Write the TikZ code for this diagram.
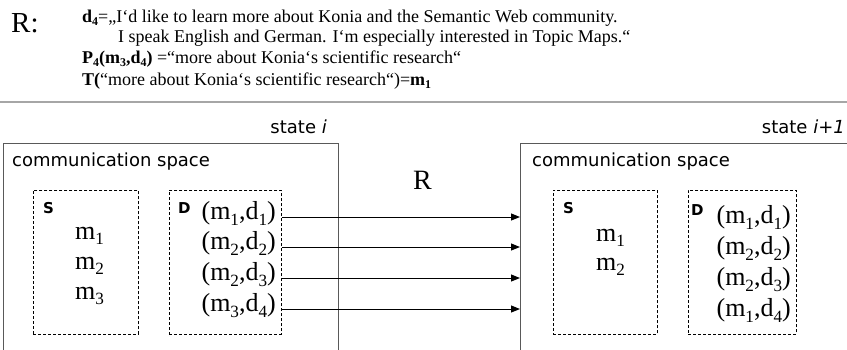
\documentclass[tikz,border=0pt]{standalone}
\usepackage{fontspec}
\setmainfont{Liberation Serif}
\newfontfamily\vsans{DejaVu Sans}
\usepackage{graphicx}
\usetikzlibrary{arrows.meta}
\newcommand\lo[1]{\raisebox{-0.22em}{\scalebox{0.66}{#1}}}
\begin{document}
\begin{tikzpicture}[x=1pt,y=-1pt,
  outer/.style={draw=black!65, line width=1.2pt, anchor=north west, inner sep=0pt},
  dbox/.style={draw=black, dash pattern=on 3pt off 2pt, line width=0.9pt, anchor=north west, inner sep=0pt},
  lbl/.style={font=\vsans\fontsize{18}{20}\selectfont, inner sep=0pt},
  sd/.style={font=\vsans\bfseries\fontsize{15}{16}\selectfont, inner sep=0pt, anchor=base west},
  mtxt/.style={font=\fontsize{26}{28}\selectfont, inner sep=0pt},
  toptxt/.style={font=\fontsize{18}{20}\selectfont, inner sep=0pt, anchor=base west},
  arr/.style={-{Triangle[length=9pt,width=7pt]}, line width=1pt, draw=black}]
\useasboundingbox (0,0) rectangle (847,349);
\clip (0,0) rectangle (847,349);

% header
\node[font=\fontsize{29}{30}\selectfont, inner sep=0pt, anchor=base west] (rlab) at (11,32) {R:};
\node[toptxt] (t1) at (82,22) {\textbf{d\lo{4}}=„I‘d like to learn more about Konia and the Semantic Web community.};
\node[toptxt] (t2) at (118,42) {I speak English and German. I‘m especially interested in Topic Maps.“};
\node[toptxt] (t3) at (82,63) {\textbf{P\lo{4}(m\lo{3},d\lo{4})} =“more about Konia‘s scientific research“};
\node[toptxt] (t4) at (82,85) {\textbf{T(}“more about Konia‘s scientific research“)=\textbf{m\lo{1}}};
\draw[draw=black!35, line width=1.5pt] (0,102) -- (847,102);

% state labels
\node[lbl, anchor=base east] (stI) at (327,133) {state \textit{i}};
\node[lbl, anchor=base east] (stJ) at (845,133) {state \textit{i+1}};

% outer boxes
\node[outer, minimum width=335pt, minimum height=260pt] (bigL) at (3,143) {};
\node[outer, minimum width=400pt, minimum height=260pt] (bigR) at (520,143) {};
\node[lbl, anchor=base west] (csL) at (12,166) {communication space};
\node[lbl, anchor=base west] (csR) at (532,166) {communication space};

% dashed boxes
\node[dbox, minimum width=105pt, minimum height=144pt] (sL) at (33,190) {};
\node[dbox, minimum width=112pt, minimum height=144pt] (dL) at (169,190) {};
\node[dbox, minimum width=104pt, minimum height=144pt] (sR) at (553,190) {};
\node[dbox, minimum width=108pt, minimum height=144pt] (dR) at (688,190) {};

\node[sd] (sLl) at (43,213) {S};
\node[sd] (dLl) at (178,213) {D};
\node[sd] (sRl) at (563,213) {S};
\node[sd] (dRl) at (691,215) {D};

% S contents
\node[mtxt, anchor=base west] (ml1) at (75,239) {m\lo{1}};
\node[mtxt, anchor=base west] (ml2) at (75,269) {m\lo{2}};
\node[mtxt, anchor=base west] (ml3) at (75,299) {m\lo{3}};
\node[mtxt, anchor=base west] (mr1) at (596,241) {m\lo{1}};
\node[mtxt, anchor=base west] (mr2) at (596,270) {m\lo{2}};

% D contents
\node[mtxt, anchor=mid east] (l1) at (276,217) {(m\lo{1},d\lo{1})};
\node[mtxt, anchor=mid east] (l2) at (276,247) {(m\lo{2},d\lo{2})};
\node[mtxt, anchor=mid east] (l3) at (276,278) {(m\lo{2},d\lo{3})};
\node[mtxt, anchor=mid east] (l4) at (276,309) {(m\lo{3},d\lo{4})};
\node[mtxt, anchor=mid east] (r1) at (791,221) {(m\lo{1},d\lo{1})};
\node[mtxt, anchor=mid east] (r2) at (791,252) {(m\lo{2},d\lo{2})};
\node[mtxt, anchor=mid east] (r3) at (791,283) {(m\lo{2},d\lo{3})};
\node[mtxt, anchor=mid east] (r4) at (791,314) {(m\lo{1},d\lo{4})};

% R and arrows
\node[font=\fontsize{28}{30}\selectfont, inner sep=0pt, anchor=base west] (rmid) at (413,189) {R};
\foreach \k in {1,2,3,4}{
  \draw[arr] (l\k.mid -| dL.east) -- (l\k.mid -| bigR.west);
}
\end{tikzpicture}
\end{document}
